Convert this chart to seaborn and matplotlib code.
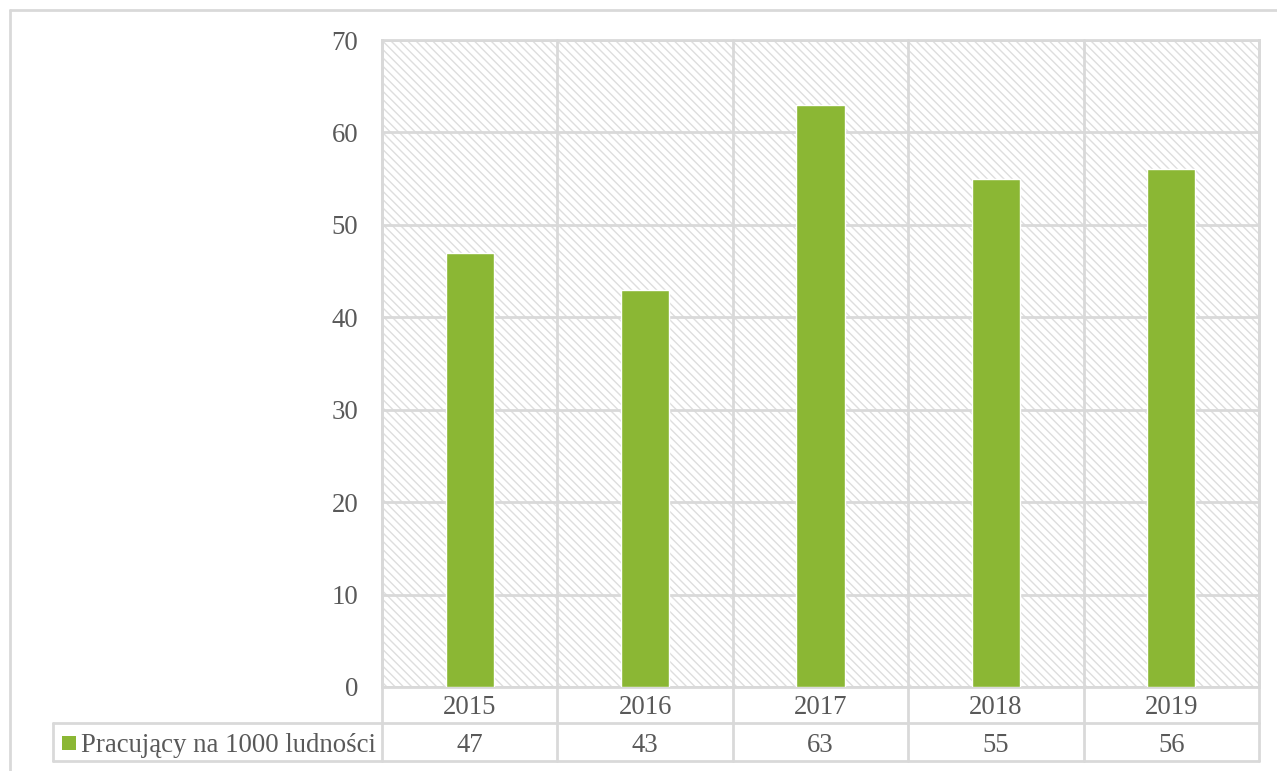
import matplotlib
matplotlib.use("Agg")
import matplotlib.pyplot as plt
import matplotlib.transforms as mtransforms
from matplotlib.lines import Line2D
from matplotlib.patches import Rectangle
import seaborn as sns
import pandas as pd

years = ["2015", "2016", "2017", "2018", "2019"]
values = [47, 43, 63, 55, 56]
series_name = "Pracujący na 1000 ludności"
y_ticks = [0, 10, 20, 30, 40, 50, 60, 70]

W, H = 1277, 771
BAR = "#8bb734"
GRID = "#d9d9d9"
TXT = "#595959"
FS = 19.3

sns.set_theme(style="white")
plt.rcParams["font.family"] = ["Liberation Serif", "DejaVu Serif"]
plt.rcParams["hatch.linewidth"] = 1.0

fig = plt.figure(figsize=(W / 100, H / 100), dpi=100)
fig.patch.set_facecolor("white")


def fx(px):
    return px / W


def fy(py):
    return 1 - py / H


ax_left, ax_right, ax_top, ax_bottom = 382, 1259, 40, 687
ax = fig.add_axes([fx(ax_left), fy(ax_bottom), fx(ax_right - ax_left), fy(ax_top) - fy(ax_bottom)])

# hatched plot area background
ax.add_patch(Rectangle((0, 0), 1, 1, transform=ax.transAxes, facecolor="white",
                       edgecolor="#dedede", hatch="\\\\\\\\", linewidth=0, zorder=0))

df = pd.DataFrame({"year": years, "value": values})
sns.barplot(data=df, x="year", y="value", color=BAR, width=0.275, saturation=1,
            ax=ax, zorder=3)

ax.set_ylim(0, 70)
ax.set_xlim(-0.5, len(years) - 0.5)
ax.set_yticks(y_ticks)
ax.set_yticklabels([str(t) for t in y_ticks], fontsize=FS, color=TXT)
ax.tick_params(axis="y", length=0, pad=17)
ax.set_xticks([])
ax.set_xlabel("")
ax.set_ylabel("")
for t in y_ticks:
    ax.axhline(t, color=GRID, lw=2, zorder=1)
for s in ax.spines.values():
    s.set_color(GRID)
    s.set_linewidth(2)

# data table under the axis
row1_bot, row2_bot = 723, 761
legend_left = 53
blend = mtransforms.blended_transform_factory(ax.transData, fig.transFigure)

for k in range(len(years) + 1):
    xd = k - 0.5
    ax.add_line(Line2D([xd, xd], [fy(ax_top), fy(row2_bot)], transform=blend,
                       color=GRID, lw=2, clip_on=False, zorder=1))

for py in (row1_bot, row2_bot):
    fig.add_artist(Line2D([fx(legend_left), fx(ax_right)], [fy(py), fy(py)], color=GRID, lw=2))
fig.add_artist(Line2D([fx(legend_left), fx(legend_left)], [fy(row1_bot), fy(row2_bot)],
                      color=GRID, lw=2))

for i, (yr, v) in enumerate(zip(years, values)):
    ax.text(i, fy(714), yr, transform=blend, ha="center", va="baseline",
            fontsize=FS, color=TXT)
    ax.text(i, fy(752), str(v), transform=blend, ha="center", va="baseline",
            fontsize=FS, color=TXT)

# legend key inside the table
fig.add_artist(Rectangle((fx(62), fy(750)), fx(14), fy(736) - fy(750), facecolor=BAR,
                         edgecolor="none", transform=fig.transFigure))
fig.text(fx(81), fy(751.5), series_name, ha="left", va="baseline",
         fontsize=FS, color=TXT)

# chart frame
fig.add_artist(Line2D([fx(10), 1], [fy(10), fy(10)], color=GRID, lw=2))
fig.add_artist(Line2D([fx(10), fx(10)], [fy(10), 0], color=GRID, lw=2))

fig.savefig("out.png", dpi=100, facecolor="white")
